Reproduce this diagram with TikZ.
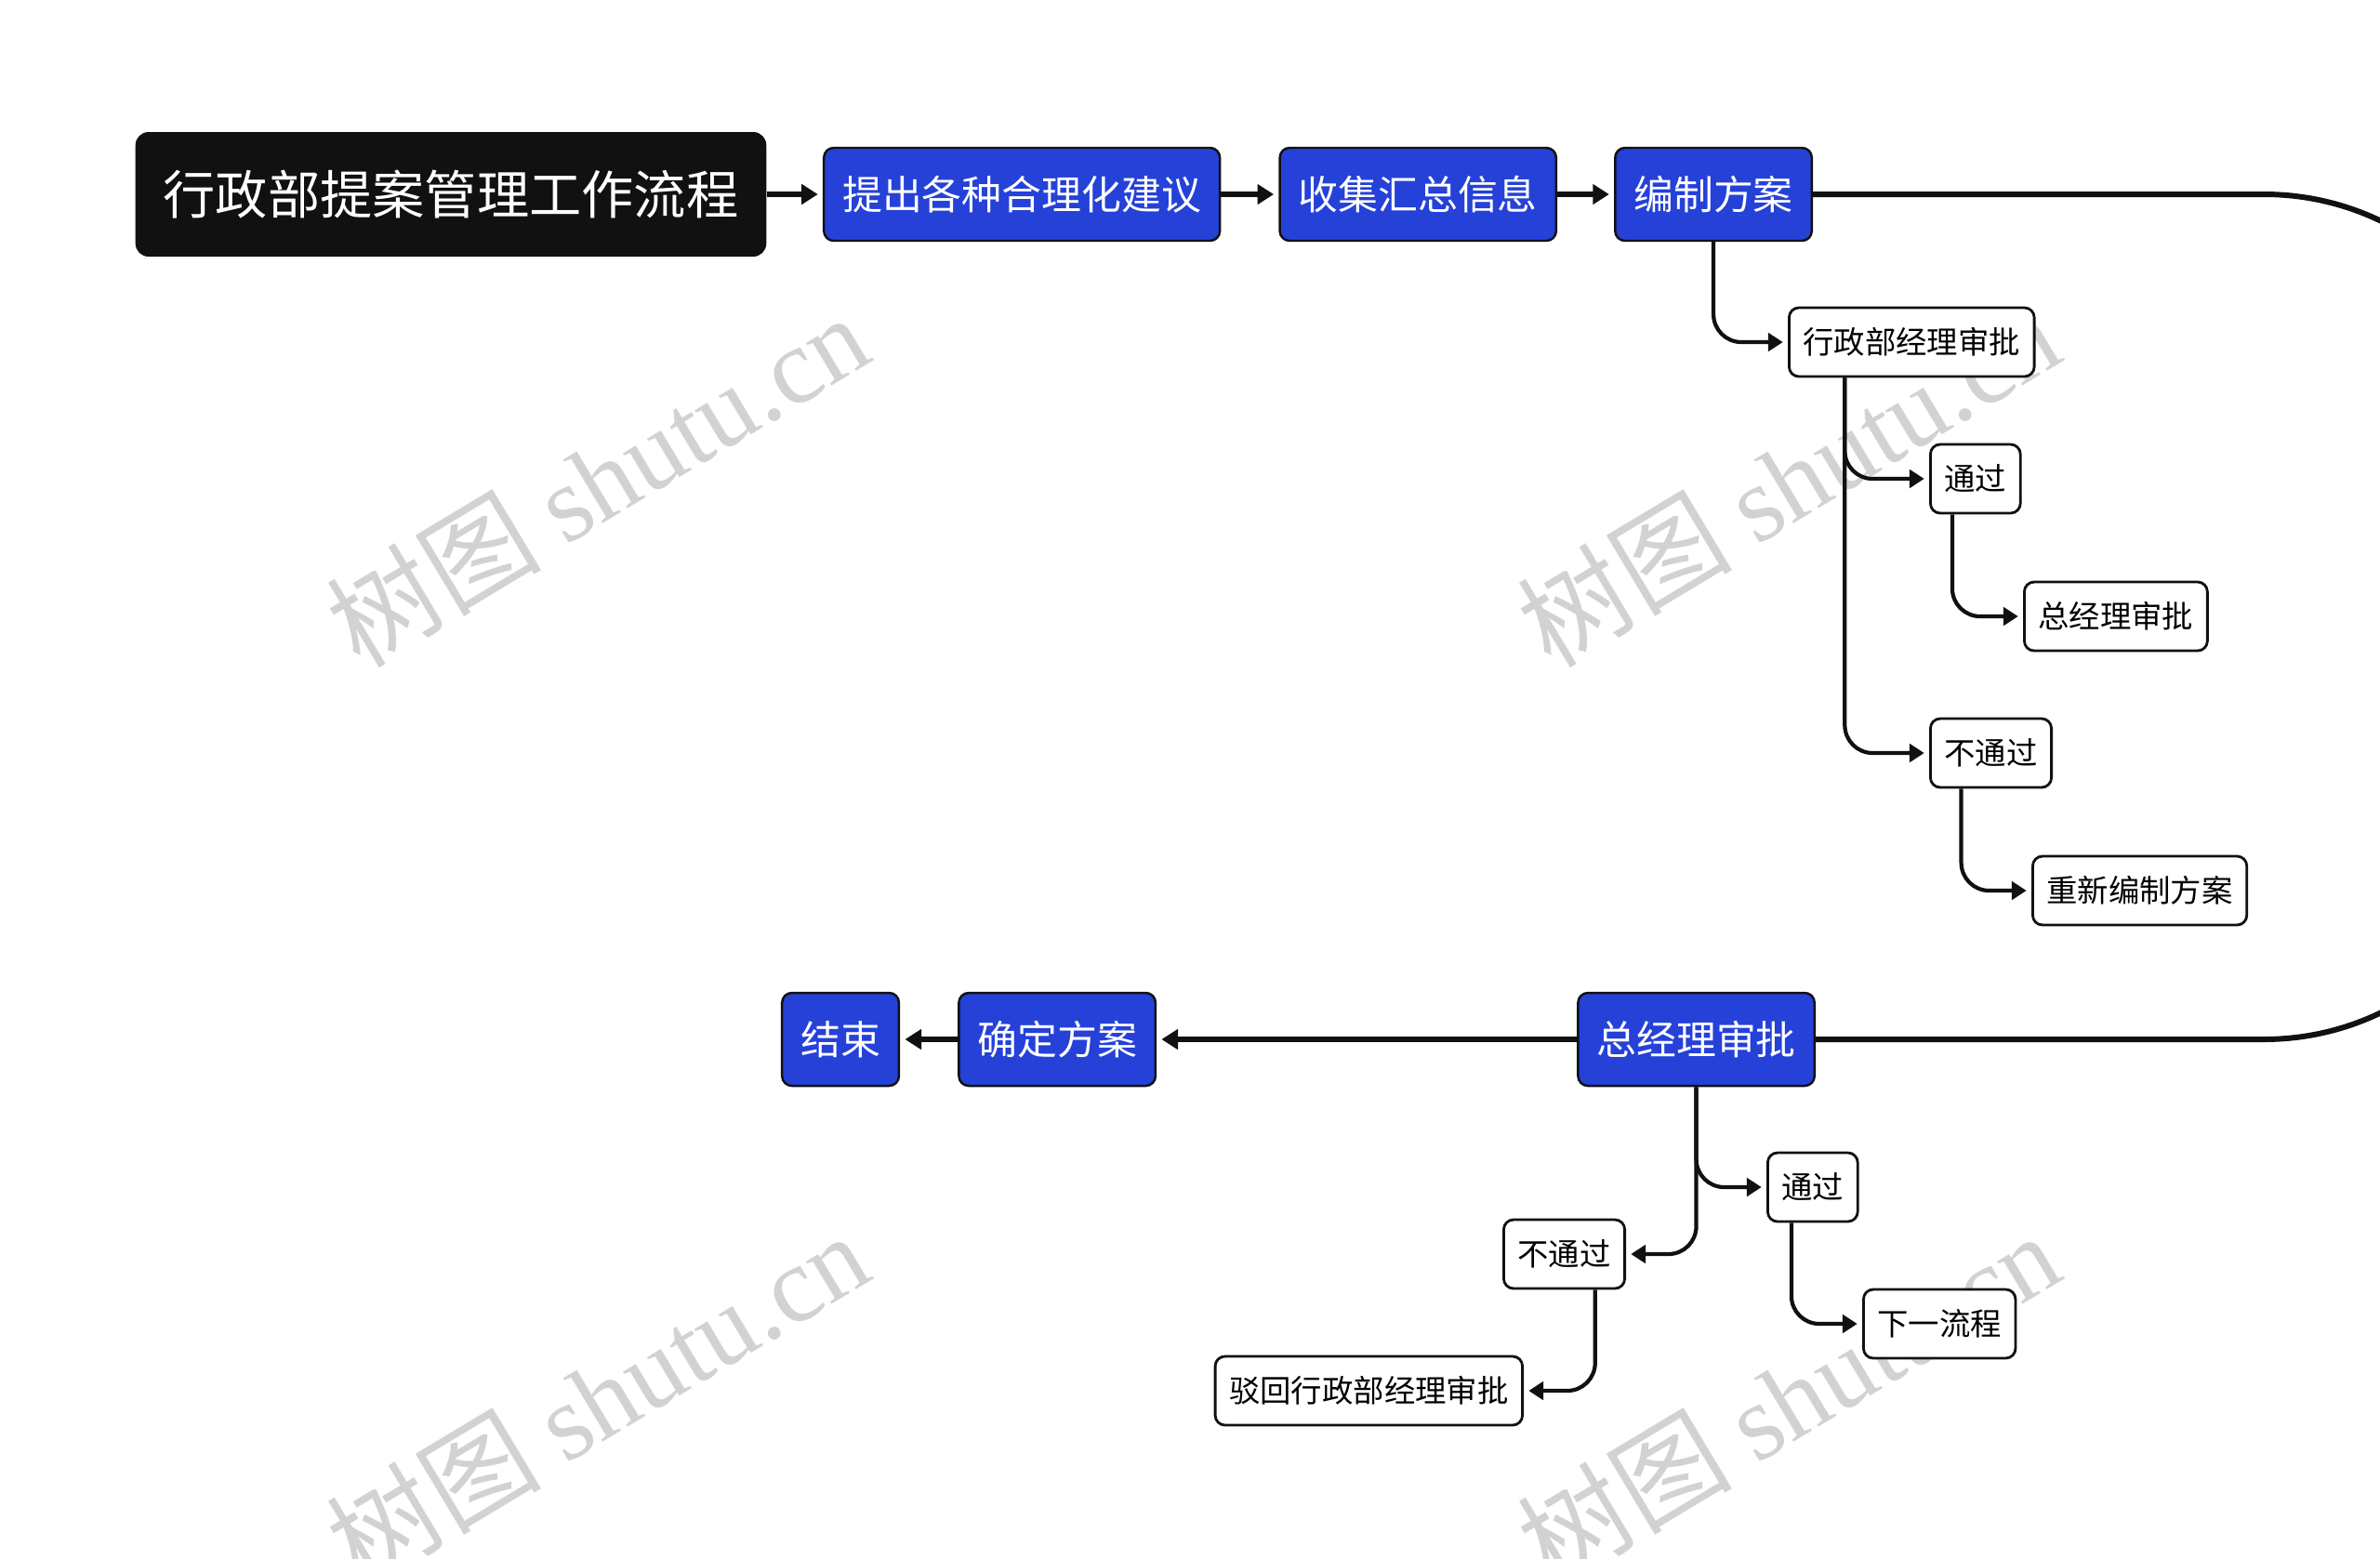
\documentclass[tikz,border=0pt]{standalone}
\usepackage{fontspec}
\setmainfont{Noto Sans CJK SC}
\newfontfamily\wmserif{Liberation Serif}
\usetikzlibrary{arrows.meta,positioning,calc}
\definecolor{flowBlue}{HTML}{2541D8}
\definecolor{inkBlack}{HTML}{111111}
\definecolor{markGray}{HTML}{D2D2D2}

\begin{document}
\begin{tikzpicture}[
    font=\fontsize{9.5}{11}\selectfont,
    headbox/.style={fill=inkBlack, text=white, rounded corners=4pt, minimum height=1.34cm, inner xsep=0.3cm, font=\fontsize{16}{19}\selectfont},
    stage/.style={draw=inkBlack, fill=flowBlue, text=white, rounded corners=3pt, minimum height=1cm, inner xsep=0.2cm, line width=0.7pt, font=\fontsize{12.2}{14}\selectfont},
    leaf/.style={draw=inkBlack, fill=white, rounded corners=3pt, minimum height=0.74cm, inner xsep=0.15cm, line width=0.8pt},
    wire/.style={draw=inkBlack, line width=1.7pt, -{Triangle[length=5pt, width=6pt]}, shorten >=1.5pt},
    branch/.style={draw=inkBlack, line width=1.2pt, rounded corners=0.3cm, -{Triangle[length=4.5pt, width=5.5pt]}, shorten >=1.5pt},
    wmark/.style={text=markGray, rotate=31, font=\fontsize{33}{40}\selectfont}
  ]
    \useasboundingbox (0,0) rectangle (25.6,-16.76);

    % watermarks
    \node[wmark] (wm1) at (6.42,-5.16) {树图 {\wmserif shutu.cn}};
    \node[wmark] (wm2) at (19.23,-5.16) {树图 {\wmserif shutu.cn}};
    \node[wmark] (wm3) at (6.42,-15.04) {树图 {\wmserif shutu.cn}};
    \node[wmark] (wm4) at (19.23,-15.04) {树图 {\wmserif shutu.cn}};

    % main line
    \node[headbox] (title) at (4.85,-2.09) {行政部提案管理工作流程};
    \node[stage, right=0.6cm of title] (propose) {提出各种合理化建议};
    \node[stage, right=0.62cm of propose] (collect) {收集汇总信息};
    \node[stage, right=0.61cm of collect] (plan) {编制方案};
    \draw[wire] (title) -- (propose);
    \draw[wire] (propose) -- (collect);
    \draw[wire] (collect) -- (plan);

    % first review
    \node[leaf, anchor=west] (mgr) at (19.23,-3.68) {行政部经理审批};
    \node[leaf, anchor=west] (pass1) at (20.75,-5.15) {通过};
    \node[leaf, anchor=west] (gmsub) at (21.76,-6.63) {总经理审批};
    \node[leaf, anchor=west] (fail1) at (20.75,-8.10) {不通过};
    \node[leaf, anchor=west] (redo) at (21.85,-9.58) {重新编制方案};
    \coordinate (mgrB) at ($(mgr.south west)!0.23!(mgr.south east)$);
    \coordinate (pass1B) at ($(pass1.south west)!0.25!(pass1.south east)$);
    \coordinate (fail1B) at ($(fail1.south west)!0.26!(fail1.south east)$);
    \draw[branch] (plan.south) |- (mgr.west);
    \draw[branch] (mgrB) |- (pass1.west);
    \draw[branch] (mgrB) |- (fail1.west);
    \draw[branch] (pass1B) |- (gmsub.west);
    \draw[branch] (fail1B) |- (redo.west);

    % second review
    \node[stage, anchor=east] (gm) at (19.53,-11.18) {总经理审批};
    \node[stage, left=4.52cm of gm] (fix) {确定方案};
    \node[stage, left=0.62cm of fix] (finish) {结束};
    \coordinate (loopR) at (27.25,-6.6);
    \draw[inkBlack, line width=1.7pt, rounded corners=2.9cm] (plan.east) -| (loopR) |- (gm.east);
    \draw[wire] (gm) -- (fix);
    \draw[wire] (fix) -- (finish);

    \node[leaf, anchor=west] (pass2) at (19.00,-12.77) {通过};
    \node[leaf, anchor=east] (fail2) at (17.49,-13.49) {不通过};
    \node[leaf, anchor=west] (next) at (20.03,-14.24) {下一流程};
    \node[leaf, anchor=east] (reject) at (16.39,-14.96) {驳回行政部经理审批};
    \coordinate (pass2B) at ($(pass2.south west)!0.27!(pass2.south east)$);
    \coordinate (fail2B) at ($(fail2.south west)!0.75!(fail2.south east)$);
    \draw[branch] (gm.south) |- (pass2.west);
    \draw[branch] (gm.south) |- (fail2.east);
    \draw[branch] (pass2B) |- (next.west);
    \draw[branch] (fail2B) |- (reject.east);
  \end{tikzpicture}
\end{document}
